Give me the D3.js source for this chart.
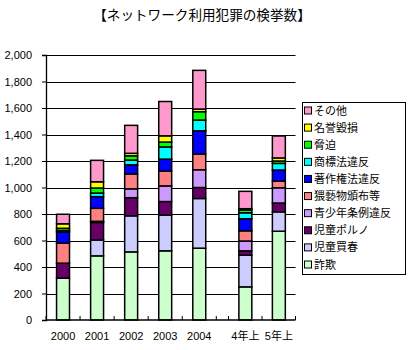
<!DOCTYPE html>
<html><head><meta charset="utf-8">
<script src="https://cdn.jsdelivr.net/npm/d3@7"></script>
<style>
html,body{margin:0;padding:0;background:#fff;}
svg text{font-family:"Liberation Sans","Noto Sans CJK JP",sans-serif;}
</style></head>
<body><svg id="c" width="412" height="350"></svg>
<script>
const title = "【ネットワーク利用犯罪の検挙数】";
const categories = ["2000","2001","2002","2003","2004","4年上","5年上"];
const yearCats = categories.slice(0,5);
const halfCats = categories.slice(5);
const yTicks = [0,200,400,600,800,1000,1200,1400,1600,1800,2000];

// series, bottom to top
const seriesNames = ["詐欺","児童買春","児童ポルノ","青少年条例違反","猥褻物頒布等","著作権法違反","商標法違反","脅迫","名誉毀損","その他"];
const seriesColors = ["#CCFFCC","#CCCCFF","#660066","#CC99FF","#FF8080","#0000FF","#00FFFF","#00FF00","#FFFF00","#FF99CC"];
const fraud          = [316, 484, 514, 522, 542, 250, 670];
const childProst     = [0, 120, 272, 270, 375, 239, 146];
const childPorn      = [113, 132, 137, 102, 83, 33, 67];
const youthOrd       = [0, 9, 67, 118, 134, 74, 115];
const obscene        = [152, 98, 112, 112, 119, 77, 50];
const copyright      = [83, 88, 69, 90, 175, 91, 84];
const trademark      = [11, 27, 36, 92, 81, 45, 50];
const threat         = [17, 38, 32, 37, 63, 20, 18];
const defamation     = [34, 47, 19, 47, 20, 11, 23];
const other          = [72, 162, 211, 259, 292, 131, 166];
const seriesValues = [fraud, childProst, childPorn, youthOrd, obscene, copyright, trademark, threat, defamation, other];

const svg = d3.select("#c");
svg.append("rect").attr("width",412).attr("height",350).attr("fill","#fff");

const L = 46, R = 295.5, T = 55, B = 320;
const y = d3.scaleLinear().domain([0,2000]).range([B,T]);
const xYears = d3.scaleBand().domain(yearCats).range([L,216.3]).paddingInner(0.62).paddingOuter(0.31);
const xHalf = d3.scaleBand().domain(halfCats).range([228.5,R]).paddingInner(0.62).paddingOuter(0.31);
const xOf = c => yearCats.includes(c) ? xYears(c) : xHalf(c);
const bw = xYears.bandwidth();

// title
svg.append("text").attr("x",202).attr("y",20).attr("text-anchor","middle")
  .style("font-family","'Noto Sans CJK JP'").style("font-size","13.6px").text(title);

// grid
svg.append("g").selectAll("line").data(yTicks.filter(t=>t>0)).join("line")
  .attr("x1",L).attr("x2",R).attr("y1",d=>Math.round(y(d))+0.5).attr("y2",d=>Math.round(y(d))+0.5)
  .attr("stroke","#000").attr("stroke-width",1.2);

// y axis
const yAxis = svg.append("g").attr("transform",`translate(${L},0)`)
  .call(d3.axisLeft(y).tickValues(yTicks).tickFormat(d3.format(",")).tickSize(4).tickPadding(10));
yAxis.select(".domain").attr("stroke","#000").attr("stroke-width",1.3);
yAxis.selectAll("text").style("font-size","11px").attr("fill","#000");

// bars
const stackData = categories.map((c,i)=>{
  const o = {cat:c};
  seriesNames.forEach((s,j)=>o[s]=seriesValues[j][i]);
  return o;
});
const stacked = d3.stack().keys(seriesNames)(stackData);
svg.append("g").selectAll("g").data(stacked).join("g")
  .attr("fill",(d,i)=>seriesColors[i])
  .selectAll("rect").data(d=>d).join("rect")
  .attr("x",d=>xOf(d.data.cat)).attr("width",bw)
  .attr("y",d=>y(d[1])).attr("height",d=>y(d[0])-y(d[1]))
  .attr("stroke","#000").attr("stroke-width",1.5);

// x axis
svg.append("line").attr("x1",L).attr("x2",R).attr("y1",B).attr("y2",B).attr("stroke","#000").attr("stroke-width",1.5);
const tickPos = yearCats.map(c=>xYears(c)-xYears.step()*0.31*1).concat([216.3]).concat(halfCats.map(c=>xHalf(c)-xHalf.step()*0.31)).concat([R]);
svg.append("g").selectAll("line").data(tickPos).join("line")
  .attr("x1",d=>d).attr("x2",d=>d).attr("y1",B).attr("y2",B-4).attr("stroke","#000");
svg.append("g").selectAll("text").data(categories).join("text")
  .attr("x",c=>xOf(c)+bw/2).attr("y",340).attr("text-anchor","middle")
  .style("font-size","11px").text(c=>c);

// legend
const lg = svg.append("g");
lg.append("rect").attr("x",302.5).attr("y",102.5).attr("width",103).attr("height",172).attr("fill","#fff").attr("stroke","#000");
const legendOrder = seriesNames.map((s,i)=>i).reverse();
const ly = d3.scalePoint().domain(legendOrder).range([110.5,264.5]);
lg.selectAll("rect.k").data(legendOrder).join("rect").attr("class","k")
  .attr("x",304.5).attr("y",i=>ly(i)-3.5).attr("width",7).attr("height",7)
  .attr("fill",i=>seriesColors[i]).attr("stroke","#000");
lg.selectAll("text").data(legendOrder).join("text")
  .attr("x",314).attr("y",i=>ly(i)+4).style("font-size","11px")
  .style("font-family","'Noto Sans CJK JP'").text(i=>seriesNames[i]);
</script></body></html>
